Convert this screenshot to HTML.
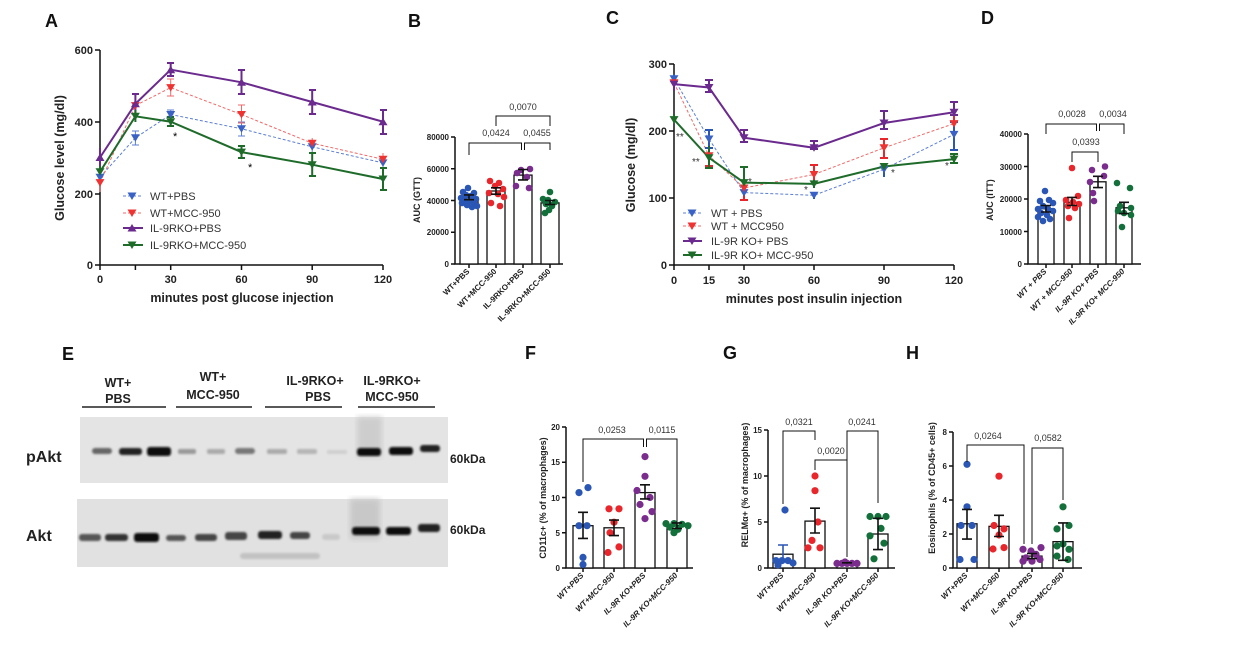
<!DOCTYPE html>
<html><head><meta charset="utf-8"><style>
html,body{margin:0;padding:0;background:#fff}
svg{display:block;font-family:"Liberation Sans",Arial,sans-serif}
.t{font-size:11px;font-weight:bold;fill:#222}
.s{font-size:8px;font-weight:bold;fill:#222}
.p{font-size:9px;fill:#333}
.L{font-size:18px;font-weight:bold;fill:#111}
.ax{stroke:#111;stroke-width:1.5;fill:none}
.bar{stroke:#111;stroke-width:1.3;fill:#fff}
.br{stroke:#111;stroke-width:1;fill:none}
.eb{stroke:#111;stroke-width:1.6;fill:none}
</style></head><body>
<svg width="1258" height="664" viewBox="0 0 1258 664" xmlns="http://www.w3.org/2000/svg">
<defs>
<symbol id="dn" overflow="visible"><path d="M-4.5,-3.5 L4.5,-3.5 L0,4Z"/></symbol>
<symbol id="up" overflow="visible"><path d="M-4.5,3.5 L4.5,3.5 L0,-4Z"/></symbol>
</defs>

<!-- ================= PANEL A ================= -->
<text class="L" x="45" y="27">A</text>
<g class="ax"><path d="M100,50 V265 H383"/>
<path d="M95,50H100M95,122H100M95,194H100M95,265H100"/>
<path d="M100,265v5M135.4,265v5M170.7,265v5M241.5,265v5M312.2,265v5M383,265v5"/></g>
<g class="t" text-anchor="end"><text x="93" y="54">600</text><text x="93" y="126">400</text><text x="93" y="198">200</text><text x="93" y="269">0</text></g>
<g class="t" text-anchor="middle"><text x="100" y="283">0</text><text x="170.7" y="283">30</text><text x="241.5" y="283">60</text><text x="312.2" y="283">90</text><text x="383" y="283">120</text></g>
<text class="t" x="242" y="302" text-anchor="middle" style="font-size:12.5px">minutes post glucose injection</text>
<text class="t" transform="translate(64,158) rotate(-90)" text-anchor="middle" style="font-size:12.5px">Glucose level (mg/dl)</text>
<!-- series -->
<g stroke="#5b7fd6" stroke-width="1" fill="none"><polyline stroke-dasharray="3,2" points="100,177.2 135.4,137.8 170.7,114.5 241.5,128.8 312.2,146.8 383,162.9"/>
<path d="M100,170v14M135.4,131v14M170.7,110v9M241.5,122v14M312.2,141v12M383,157v12M132,131h7M132,145h7M167,110h7M238,122h7M238,136h7"/></g>
<g stroke="#f06a6a" stroke-width="1" fill="none"><polyline stroke-dasharray="3,2" points="100,182.6 135.4,105.6 170.7,87.6 241.5,114.5 312.2,143.2 383,159.3"/>
<path d="M100,174v18M135.4,99v14M170.7,79v17M241.5,105v18M312.2,138v10M383,153v12M167,79h7M167,96h7M238,105h7M238,123h7"/></g>
<g stroke="#6b2a8e" stroke-width="2" fill="none"><polyline points="100,157.5 135.4,103.8 170.7,69.7 241.5,82.3 312.2,102 383,121.7"/>
<path d="M100,148v18M135.4,94v20M170.7,63v13M241.5,70v24M312.2,90v24M383,110v24M132,94h7M167,63h7M167,76h7M238,70h7M238,94h7M309,90h7M309,114h7M380,110h7M380,134h7"/></g>
<g stroke="#1e6b2a" stroke-width="2" fill="none"><polyline points="100,171.8 135.4,116.3 170.7,121.7 241.5,152.1 312.2,164.7 383,179"/>
<path d="M100,166v12M135.4,110v12M170.7,117v9M241.5,146v12M312.2,153v23M383,168v22M167,117h7M167,126h7M238,146h7M238,158h7M309,153h7M309,176h7M380,168h7M380,190h7"/></g>
<g fill="#3a62c4"><use href="#dn" x="100" y="177.2"/><use href="#dn" x="135.4" y="137.8"/><use href="#dn" x="170.7" y="114.5"/><use href="#dn" x="241.5" y="128.8"/><use href="#dn" x="312.2" y="146.8"/><use href="#dn" x="383" y="162.9"/></g>
<g fill="#ee3333"><use href="#dn" x="100" y="182.6"/><use href="#dn" x="135.4" y="105.6"/><use href="#dn" x="170.7" y="87.6"/><use href="#dn" x="241.5" y="114.5"/><use href="#dn" x="312.2" y="143.2"/><use href="#dn" x="383" y="159.3"/></g>
<g fill="#6b2a8e"><use href="#up" x="100" y="157.5"/><use href="#up" x="135.4" y="103.8"/><use href="#up" x="170.7" y="69.7"/><use href="#up" x="241.5" y="82.3"/><use href="#up" x="312.2" y="102"/><use href="#up" x="383" y="121.7"/></g>
<g fill="#1e6b2a"><use href="#dn" x="100" y="171.8"/><use href="#dn" x="135.4" y="116.3"/><use href="#dn" x="170.7" y="121.7"/><use href="#dn" x="241.5" y="152.1"/><use href="#dn" x="312.2" y="164.7"/><use href="#dn" x="383" y="179"/></g>
<text x="173" y="140" font-size="11">*</text><text x="248" y="171" font-size="11">*</text>
<!-- legend -->
<g font-size="11" fill="#333">
<line x1="123" y1="196" x2="143" y2="196" stroke="#5b7fd6" stroke-dasharray="3,2"/><use href="#dn" x="132" y="196" fill="#3a62c4"/><text x="150" y="200">WT+PBS</text>
<line x1="123" y1="213" x2="143" y2="213" stroke="#f06a6a" stroke-dasharray="3,2"/><use href="#dn" x="132" y="213" fill="#ee3333"/><text x="150" y="217">WT+MCC-950</text>
<line x1="123" y1="228" x2="143" y2="228" stroke="#6b2a8e" stroke-width="2"/><use href="#up" x="132" y="228" fill="#6b2a8e"/><text x="150" y="232">IL-9RKO+PBS</text>
<line x1="123" y1="245" x2="143" y2="245" stroke="#1e6b2a" stroke-width="2"/><use href="#dn" x="132" y="245" fill="#1e6b2a"/><text x="150" y="249">IL-9RKO+MCC-950</text>
</g>

<!-- ================= PANEL B ================= -->
<text class="L" x="408" y="27">B</text>
<g class="ax" stroke-width="1.2"><path d="M455,137 V264 H563"/><path d="M451,137h4M451,168.75h4M451,200.5h4M451,232.25h4M451,264h4M469,264v4M496,264v4M523,264v4M550,264v4"/></g>
<g class="s" text-anchor="end"><text x="449" y="140">80000</text><text x="449" y="172">60000</text><text x="449" y="204">40000</text><text x="449" y="235">20000</text><text x="449" y="267">0</text></g>
<text class="s" style="font-size:9px" transform="translate(420,200) rotate(-90)" text-anchor="middle">AUC (GTT)</text>
<rect class="bar" x="460" y="197.3" width="18" height="66.7"/><rect class="bar" x="487" y="191" width="18" height="73"/><rect class="bar" x="514" y="175.1" width="18" height="88.9"/><rect class="bar" x="541" y="202.9" width="18" height="61.1"/>
<g fill="#2a56b5"><circle cx="468" cy="188" r="3.3"/><circle cx="463" cy="192" r="3.3"/><circle cx="474" cy="193" r="3.3"/><circle cx="466" cy="195" r="3.3"/><circle cx="471" cy="196" r="3.3"/><circle cx="461" cy="198" r="3.3"/><circle cx="476" cy="199" r="3.3"/><circle cx="465" cy="200" r="3.3"/><circle cx="470" cy="201" r="3.3"/><circle cx="462" cy="203" r="3.3"/><circle cx="474" cy="203" r="3.3"/><circle cx="467" cy="205" r="3.3"/><circle cx="477" cy="206" r="3.3"/><circle cx="472" cy="207" r="3.3"/></g>
<g fill="#e8262b"><circle cx="490" cy="181" r="3.3"/><circle cx="499" cy="183" r="3.3"/><circle cx="495" cy="186" r="3.3"/><circle cx="503" cy="189" r="3.3"/><circle cx="489" cy="193" r="3.3"/><circle cx="498" cy="194" r="3.3"/><circle cx="504" cy="197" r="3.3"/><circle cx="491" cy="203" r="3.3"/><circle cx="500" cy="206" r="3.3"/></g>
<g fill="#7b2d8e"><circle cx="521" cy="170" r="3.3"/><circle cx="530" cy="169" r="3.3"/><circle cx="517" cy="173" r="3.3"/><circle cx="527" cy="177" r="3.3"/><circle cx="516" cy="186" r="3.3"/><circle cx="529" cy="188" r="3.3"/></g>
<g fill="#13703a"><circle cx="550" cy="192" r="3.3"/><circle cx="543" cy="199" r="3.3"/><circle cx="548" cy="200" r="3.3"/><circle cx="555" cy="202" r="3.3"/><circle cx="546" cy="204" r="3.3"/><circle cx="552" cy="206" r="3.3"/><circle cx="549" cy="210" r="3.3"/><circle cx="545" cy="213" r="3.3"/></g>
<g class="eb"><path d="M469,194.9v4.8M464,194.9h10M464,199.7h10M496,187.8v6.4M491,187.8h10M491,194.2h10M523,169.5v10.4M518,169.5h10M518,179.9h10M550,200.5v4M545,200.5h10M545,204.5h10"/></g>
<g class="br"><path d="M469,155V143H521.5V150M524.5,150V143H550V150M496,126V116H550V126"/></g>
<g class="p" text-anchor="middle"><text x="496" y="136">0,0424</text><text x="537" y="136">0,0455</text><text x="523" y="110">0,0070</text></g>
<g class="s" text-anchor="end"><text transform="translate(470,272) rotate(-45)">WT+PBS</text><text transform="translate(497,272) rotate(-45)">WT+MCC-950</text><text transform="translate(524,272) rotate(-45)">IL-9RKO+PBS</text><text transform="translate(551,272) rotate(-45)">IL-9RKO+MCC-950</text></g>

<!-- ================= PANEL C ================= -->
<text class="L" x="606" y="24">C</text>
<g class="ax"><path d="M674,64 V265 H954"/><path d="M669,64h5M669,131h5M669,198h5M669,265h5M674,265v5M709,265v5M744,265v5M814,265v5M884,265v5M954,265v5"/></g>
<g class="t" text-anchor="end"><text x="667" y="68">300</text><text x="667" y="135">200</text><text x="667" y="202">100</text><text x="667" y="269">0</text></g>
<g class="t" text-anchor="middle"><text x="674" y="284">0</text><text x="709" y="284">15</text><text x="744" y="284">30</text><text x="814" y="284">60</text><text x="884" y="284">90</text><text x="954" y="284">120</text></g>
<text class="t" x="814" y="303" text-anchor="middle" style="font-size:12.5px">minutes post insulin injection</text>
<text class="t" transform="translate(635,165) rotate(-90)" text-anchor="middle" style="font-size:12.5px">Glucose (mg/dl)</text>
<g stroke="#5b7fd6" stroke-width="1" fill="none"><polyline stroke-dasharray="3,2" points="674,78.7 709,139 744,192.6 814,195.3 884,169.2 954,134.4"/></g>
<g stroke="#f06a6a" stroke-width="1" fill="none"><polyline stroke-dasharray="3,2" points="674,82.8 709,155.8 744,188 814,174.5 884,147.8 954,123.6"/></g>
<g stroke="#6b2a8e" stroke-width="2" fill="none"><polyline points="674,84.1 709,87.5 744,137.7 814,147.8 884,123 954,112.2"/></g>
<g stroke="#1e6b2a" stroke-width="2" fill="none"><polyline points="674,119.6 709,157.8 744,182.6 814,183.9 884,166.5 954,159.1"/></g>
<g stroke-width="2" fill="none">
<path stroke="#2a56b5" d="M674,74v10M709,130v18M744,186v13M814,192v7M884,164v13M954,122v28M705,130h8M705,148h8M950,122h8M950,150h8"/>
<path stroke="#e8262b" d="M674,77v12M709,146v20M744,180v20M814,165v18M884,139v19M954,116v10M705,166h8M740,200h8M810,165h8M880,139h8M880,158h8"/>
<path stroke="#6b2a8e" d="M674,77v14M709,80v12M744,130v12M814,141v8M884,111v18M954,102v13M705,80h8M705,92h8M740,130h8M740,142h8M810,141h8M810,149h8M880,111h8M880,129h8M950,102h8M950,115h8"/>
<path stroke="#1e6b2a" d="M674,114v8M709,146v22M744,167v16M814,180v8M884,163v6M954,154v9M705,168h8M740,167h8M950,154h8M950,163h8"/></g>
<g fill="#3a62c4"><use href="#dn" x="674" y="78.7"/><use href="#dn" x="709" y="139"/><use href="#dn" x="744" y="192.6"/><use href="#dn" x="814" y="195.3"/><use href="#dn" x="884" y="169.2"/><use href="#dn" x="954" y="134.4"/></g>
<g fill="#ee3333"><use href="#dn" x="674" y="82.8"/><use href="#dn" x="709" y="155.8"/><use href="#dn" x="744" y="188"/><use href="#dn" x="814" y="174.5"/><use href="#dn" x="884" y="147.8"/><use href="#dn" x="954" y="123.6"/></g>
<g fill="#6b2a8e"><use href="#dn" x="674" y="84.1"/><use href="#dn" x="709" y="87.5"/><use href="#dn" x="744" y="137.7"/><use href="#dn" x="814" y="147.8"/><use href="#dn" x="884" y="123"/><use href="#dn" x="954" y="112.2"/></g>
<g fill="#1e6b2a"><use href="#dn" x="674" y="119.6"/><use href="#dn" x="709" y="157.8"/><use href="#dn" x="744" y="182.6"/><use href="#dn" x="814" y="183.9"/><use href="#dn" x="884" y="166.5"/><use href="#dn" x="954" y="159.1"/></g>
<g font-size="10" fill="#333"><text x="676" y="140">**</text><text x="692" y="165">**</text><text x="748" y="185">*</text><text x="804" y="193">*</text><text x="891" y="176">*</text><text x="945" y="169">*</text></g>
<g font-size="11" fill="#333">
<line x1="683" y1="213" x2="702" y2="213" stroke="#5b7fd6" stroke-dasharray="3,2"/><use href="#dn" x="692" y="213" fill="#3a62c4"/><text x="711" y="217">WT + PBS</text>
<line x1="683" y1="226" x2="702" y2="226" stroke="#f06a6a" stroke-dasharray="3,2"/><use href="#dn" x="692" y="226" fill="#ee3333"/><text x="711" y="230">WT + MCC950</text>
<line x1="683" y1="241" x2="702" y2="241" stroke="#6b2a8e" stroke-width="2"/><use href="#dn" x="692" y="241" fill="#6b2a8e"/><text x="711" y="245">IL-9R KO+ PBS</text>
<line x1="683" y1="255" x2="702" y2="255" stroke="#1e6b2a" stroke-width="2"/><use href="#dn" x="692" y="255" fill="#1e6b2a"/><text x="711" y="259">IL-9R KO+ MCC-950</text>
</g>

<!-- ================= PANEL D ================= -->
<text class="L" x="981" y="24">D</text>
<g class="ax" stroke-width="1.2"><path d="M1028,134 V264 H1141"/><path d="M1024,134h4M1024,166.5h4M1024,199h4M1024,231.5h4M1024,264h4M1046,264v4M1072,264v4M1098,264v4M1124,264v4"/></g>
<g class="s" text-anchor="end"><text x="1022" y="137">40000</text><text x="1022" y="170">30000</text><text x="1022" y="202">20000</text><text x="1022" y="235">10000</text><text x="1022" y="267">0</text></g>
<text class="s" style="font-size:9px" transform="translate(993,200) rotate(-90)" text-anchor="middle">AUC (ITT)</text>
<rect class="bar" x="1038" y="208.75" width="16" height="55.25"/><rect class="bar" x="1064" y="202.25" width="16" height="61.75"/><rect class="bar" x="1090" y="181.8" width="16" height="82.2"/><rect class="bar" x="1116" y="207.8" width="16" height="56.2"/>
<g fill="#2a56b5"><circle cx="1045" cy="191" r="3.3"/><circle cx="1040" cy="201" r="3.3"/><circle cx="1049" cy="200" r="3.3"/><circle cx="1053" cy="203" r="3.3"/><circle cx="1043" cy="206" r="3.3"/><circle cx="1038" cy="209" r="3.3"/><circle cx="1048" cy="209" r="3.3"/><circle cx="1053" cy="211" r="3.3"/><circle cx="1041" cy="213" r="3.3"/><circle cx="1047" cy="215" r="3.3"/><circle cx="1038" cy="217" r="3.3"/><circle cx="1050" cy="219" r="3.3"/><circle cx="1043" cy="221" r="3.3"/></g>
<g fill="#e8262b"><circle cx="1072" cy="168" r="3.3"/><circle cx="1078" cy="196" r="3.3"/><circle cx="1066" cy="200" r="3.3"/><circle cx="1073" cy="202" r="3.3"/><circle cx="1079" cy="204" r="3.3"/><circle cx="1068" cy="206" r="3.3"/><circle cx="1075" cy="208" r="3.3"/><circle cx="1069" cy="218" r="3.3"/></g>
<g fill="#7b2d8e"><circle cx="1105" cy="166.5" r="3.3"/><circle cx="1092" cy="170" r="3.3"/><circle cx="1104" cy="176" r="3.3"/><circle cx="1090" cy="182" r="3.3"/><circle cx="1093" cy="193" r="3.3"/><circle cx="1094" cy="201" r="3.3"/></g>
<g fill="#13703a"><circle cx="1117" cy="183" r="3.3"/><circle cx="1130" cy="188" r="3.3"/><circle cx="1120" cy="206" r="3.3"/><circle cx="1131" cy="208" r="3.3"/><circle cx="1118" cy="211" r="3.3"/><circle cx="1124" cy="213" r="3.3"/><circle cx="1131" cy="215" r="3.3"/><circle cx="1122" cy="227" r="3.3"/></g>
<g class="eb"><path d="M1046,205.5v6.5M1041,205.5h10M1041,212h10M1072,197.4v8.1M1067,197.4h10M1067,205.5h10M1098,176.3v11.3M1093,176.3h10M1093,187.6h10M1124,202.3v11.3M1119,202.3h10M1119,213.6h10"/></g>
<g class="br"><path d="M1046,134V124H1096.5V131M1099.5,131V124H1124V134M1072,162V152H1098V162"/></g>
<g class="p" text-anchor="middle"><text x="1072" y="117">0,0028</text><text x="1113" y="117">0,0034</text><text x="1086" y="145">0,0393</text></g>
<g class="s" text-anchor="end" font-style="italic"><text transform="translate(1047,272) rotate(-45)">WT + PBS</text><text transform="translate(1073,272) rotate(-45)">WT + MCC-950</text><text transform="translate(1099,272) rotate(-45)">IL-9R KO+ PBS</text><text transform="translate(1125,272) rotate(-45)">IL-9R KO+ MCC-950</text></g>

<!-- ================= PANEL E ================= -->
<text class="L" x="62" y="360">E</text>
<g font-size="12.5" font-weight="bold" fill="#222" text-anchor="middle">
<text x="118" y="387">WT+</text><text x="118" y="403">PBS</text>
<text x="213" y="381">WT+</text><text x="213" y="399">MCC-950</text>
<text x="315" y="385">IL-9RKO+</text><text x="318" y="401">PBS</text>
<text x="392" y="385">IL-9RKO+</text><text x="392" y="401">MCC-950</text></g>
<g stroke="#222" stroke-width="1.5"><path d="M82,407H166M176,407H252M265,407H342M358,407H435"/></g>
<defs><filter id="bl"><feGaussianBlur stdDeviation="1.1"/></filter><filter id="bl2"><feGaussianBlur stdDeviation="3"/></filter></defs>
<rect x="80" y="417" width="368" height="66" fill="#e4e4e4"/>
<rect x="357" y="417" width="25" height="40" fill="#cdcdcd" filter="url(#bl2)"/>
<g filter="url(#bl)">
<rect x="92" y="448" width="20" height="6" rx="3" fill="#666"/>
<rect x="119" y="448" width="23" height="7" rx="3" fill="#222"/>
<rect x="147" y="447" width="24" height="9" rx="3" fill="#111"/>
<rect x="178" y="449" width="18" height="5" rx="2" fill="#999"/>
<rect x="207" y="449" width="18" height="5" rx="2" fill="#aaa"/>
<rect x="235" y="448" width="20" height="6" rx="3" fill="#777"/>
<rect x="267" y="449" width="20" height="5" rx="2" fill="#aaa"/>
<rect x="297" y="449" width="20" height="5" rx="2" fill="#b5b5b5"/>
<rect x="327" y="450" width="20" height="4" rx="2" fill="#cfcfcf"/>
<rect x="357" y="448" width="24" height="8" rx="3" fill="#111"/>
<rect x="389" y="447" width="24" height="8" rx="3" fill="#111"/>
<rect x="420" y="445" width="20" height="7" rx="3" fill="#222"/>
</g>
<rect x="77" y="499" width="371" height="68" fill="#e1e1e1"/>
<rect x="350" y="499" width="30" height="40" fill="#c8c8c8" filter="url(#bl2)"/>
<g filter="url(#bl)">
<rect x="79" y="534" width="22" height="7" rx="3" fill="#555"/>
<rect x="105" y="534" width="23" height="7" rx="3" fill="#333"/>
<rect x="134" y="533" width="25" height="9" rx="3" fill="#111"/>
<rect x="166" y="535" width="20" height="6" rx="3" fill="#555"/>
<rect x="195" y="534" width="22" height="7" rx="3" fill="#444"/>
<rect x="225" y="532" width="22" height="8" rx="3" fill="#444"/>
<rect x="258" y="531" width="24" height="8" rx="3" fill="#222"/>
<rect x="290" y="532" width="20" height="7" rx="3" fill="#444"/>
<rect x="322" y="534" width="18" height="6" rx="3" fill="#c9c9c9"/>
<rect x="352" y="527" width="28" height="8" rx="3" fill="#111"/>
<rect x="386" y="527" width="25" height="8" rx="3" fill="#111"/>
<rect x="418" y="524" width="22" height="8" rx="3" fill="#222"/>
<rect x="240" y="553" width="80" height="6" rx="3" fill="#c2c2c2"/>
</g>
<g font-weight="bold" fill="#222"><text x="26" y="462" font-size="16">pAkt</text><text x="26" y="541" font-size="16">Akt</text>
<text x="450" y="463" font-size="12">60kDa</text><text x="450" y="534" font-size="12">60kDa</text></g>

<!-- ================= PANEL F ================= -->
<text class="L" x="525" y="359">F</text>
<g class="ax" stroke-width="1.2"><path d="M566,427 V568 H693"/><path d="M562,427h4M562,462.25h4M562,497.5h4M562,532.75h4M562,568h4M583,568v4M614,568v4M645,568v4M677,568v4"/></g>
<g class="s" text-anchor="end"><text x="560" y="430">20</text><text x="560" y="465">15</text><text x="560" y="501">10</text><text x="560" y="536">5</text><text x="560" y="571">0</text></g>
<text class="s" style="font-size:9px" transform="translate(546,498) rotate(-90)" text-anchor="middle">CD11c+ (% of macrophages)</text>
<rect class="bar" x="573" y="525.7" width="20" height="42.3"/><rect class="bar" x="604" y="527.8" width="20" height="40.2"/><rect class="bar" x="635" y="492.6" width="20" height="75.4"/><rect class="bar" x="667" y="525.7" width="20" height="42.3"/>
<g fill="#2a56b5"><circle cx="588" cy="487.6" r="3.6"/><circle cx="579" cy="492.6" r="3.6"/><circle cx="579" cy="525.7" r="3.6"/><circle cx="587" cy="525.7" r="3.6"/><circle cx="583" cy="557.4" r="3.6"/><circle cx="583" cy="564.5" r="3.6"/></g>
<g fill="#e8262b"><circle cx="609" cy="508.8" r="3.6"/><circle cx="619" cy="508.8" r="3.6"/><circle cx="614" cy="522.2" r="3.6"/><circle cx="610" cy="532.75" r="3.6"/><circle cx="619" cy="546.9" r="3.6"/><circle cx="608" cy="552.5" r="3.6"/></g>
<g fill="#7b2d8e"><circle cx="645" cy="456.6" r="3.6"/><circle cx="645" cy="476.3" r="3.6"/><circle cx="637" cy="490.5" r="3.6"/><circle cx="650" cy="497.5" r="3.6"/><circle cx="640" cy="504.5" r="3.6"/><circle cx="652" cy="511.6" r="3.6"/><circle cx="645" cy="518.6" r="3.6"/></g>
<g fill="#13703a"><circle cx="666" cy="523.6" r="3.6"/><circle cx="674" cy="523.6" r="3.6"/><circle cx="682" cy="524.3" r="3.6"/><circle cx="688" cy="525.7" r="3.6"/><circle cx="670" cy="527.2" r="3.6"/><circle cx="678" cy="529.3" r="3.6"/><circle cx="674" cy="532.7" r="3.6"/></g>
<g class="eb"><path d="M583,538.4v-26.1M578,538.4h10M578,512.3h10M614,535.6v-15.5M609,535.6h10M609,520.1h10M645,498.9v-14.1M640,498.9h10M640,484.8h10M677,528.5v-5.6M672,528.5h10M672,522.9h10"/></g>
<g class="br"><path d="M583,482V439H643.5V447M646.5,447V439H677V522"/></g>
<g class="p" text-anchor="middle"><text x="612" y="433">0,0253</text><text x="662" y="433">0,0115</text></g>
<g class="s" text-anchor="end" font-style="italic"><text transform="translate(584,576) rotate(-45)">WT+PBS</text><text transform="translate(615,576) rotate(-45)">WT+MCC-950</text><text transform="translate(646,576) rotate(-45)">IL-9R KO+PBS</text><text transform="translate(678,576) rotate(-45)">IL-9R KO+MCC-950</text></g>

<!-- ================= PANEL G ================= -->
<text class="L" x="723" y="359">G</text>
<g class="ax" stroke-width="1.2"><path d="M768,430 V568 H895"/><path d="M764,430h4M764,476h4M764,522h4M764,568h4M783,568v4M815,568v4M847,568v4M878,568v4"/></g>
<g class="s" text-anchor="end"><text x="762" y="433">15</text><text x="762" y="479">10</text><text x="762" y="525">5</text><text x="762" y="571">0</text></g>
<text class="s" style="font-size:9px" transform="translate(748,485) rotate(-90)" text-anchor="middle">RELMα+ (% of macrophages)</text>
<rect class="bar" x="773" y="554.2" width="20" height="13.8"/><rect class="bar" x="805" y="521.1" width="20" height="46.9"/><rect class="bar" x="837" y="563.4" width="20" height="4.6"/><rect class="bar" x="868" y="534" width="20" height="34"/>
<g fill="#2a56b5"><circle cx="785" cy="510" r="3.6"/><circle cx="776" cy="560.6" r="3.6"/><circle cx="782" cy="560.6" r="3.6"/><circle cx="788" cy="560.6" r="3.6"/><circle cx="793" cy="563" r="3.6"/><circle cx="778" cy="565" r="3.6"/></g>
<g fill="#e8262b"><circle cx="815" cy="476" r="3.6"/><circle cx="815" cy="490.7" r="3.6"/><circle cx="818" cy="522" r="3.6"/><circle cx="812" cy="540.4" r="3.6"/><circle cx="808" cy="547.8" r="3.6"/><circle cx="820" cy="547.8" r="3.6"/></g>
<g fill="#7b2d8e"><circle cx="837" cy="563.4" r="3.6"/><circle cx="842" cy="563.4" r="3.6"/><circle cx="847" cy="563.4" r="3.6"/><circle cx="852" cy="563.4" r="3.6"/><circle cx="857" cy="563.4" r="3.6"/><circle cx="845" cy="562" r="3.6"/></g>
<g fill="#13703a"><circle cx="870" cy="516.5" r="3.6"/><circle cx="878" cy="516.5" r="3.6"/><circle cx="886" cy="516.5" r="3.6"/><circle cx="881" cy="528.4" r="3.6"/><circle cx="870" cy="535.8" r="3.6"/><circle cx="884" cy="543.2" r="3.6"/><circle cx="874" cy="558.8" r="3.6"/></g>
<g class="eb" ><path stroke="#2a56b5" d="M783,563.4v-18.4M778,545h10"/><path d="M815,533v-24.8M810,533h10M810,508.2h10M847,563.7v-1.8M842,562.8h10M878,549.6v-31.3M873,549.6h10M873,518.3h10"/></g>
<g class="br"><path d="M783,504V431H815V440M847,508V431H878V503M815,470V460H847V557"/></g>
<g class="p" text-anchor="middle"><text x="799" y="425">0,0321</text><text x="862" y="425">0,0241</text><text x="831" y="454">0,0020</text></g>
<g class="s" text-anchor="end" font-style="italic"><text transform="translate(784,576) rotate(-45)">WT+PBS</text><text transform="translate(816,576) rotate(-45)">WT+MCC-950</text><text transform="translate(848,576) rotate(-45)">IL-9R KO+PBS</text><text transform="translate(879,576) rotate(-45)">IL-9R KO+MCC-950</text></g>

<!-- ================= PANEL H ================= -->
<text class="L" x="906" y="359">H</text>
<g class="ax" stroke-width="1.2"><path d="M953,432 V568 H1082"/><path d="M949,432h4M949,466h4M949,500h4M949,534h4M949,568h4M967,568v4M999,568v4M1032,568v4M1063,568v4"/></g>
<g class="s" text-anchor="end"><text x="947" y="435">8</text><text x="947" y="469">6</text><text x="947" y="503">4</text><text x="947" y="537">2</text><text x="947" y="571">0</text></g>
<text class="s" style="font-size:9px" transform="translate(935,488) rotate(-90)" text-anchor="middle">Eosinophils (% of CD45+ cells)</text>
<rect class="bar" x="957" y="523.8" width="20" height="44.2"/><rect class="bar" x="989" y="526.35" width="20" height="41.65"/><rect class="bar" x="1022" y="556.1" width="20" height="11.9"/><rect class="bar" x="1053" y="541.65" width="20" height="26.35"/>
<g fill="#2a56b5"><circle cx="967" cy="464.3" r="3.6"/><circle cx="967" cy="506.8" r="3.6"/><circle cx="961" cy="525.5" r="3.6"/><circle cx="972" cy="525.5" r="3.6"/><circle cx="960" cy="559.5" r="3.6"/><circle cx="974" cy="559.5" r="3.6"/></g>
<g fill="#e8262b"><circle cx="999" cy="476.2" r="3.6"/><circle cx="994" cy="525.5" r="3.6"/><circle cx="1004" cy="528.9" r="3.6"/><circle cx="999" cy="535" r="3.6"/><circle cx="993" cy="549" r="3.6"/><circle cx="1004" cy="547.6" r="3.6"/></g>
<g fill="#7b2d8e"><circle cx="1023" cy="549.3" r="3.6"/><circle cx="1041" cy="547.6" r="3.6"/><circle cx="1031" cy="551" r="3.6"/><circle cx="1036" cy="554.4" r="3.6"/><circle cx="1026" cy="557.8" r="3.6"/><circle cx="1040" cy="559.5" r="3.6"/><circle cx="1023" cy="561.2" r="3.6"/><circle cx="1032" cy="561.2" r="3.6"/></g>
<g fill="#13703a"><circle cx="1063" cy="506.8" r="3.6"/><circle cx="1069" cy="525.5" r="3.6"/><circle cx="1057" cy="528.9" r="3.6"/><circle cx="1057" cy="546" r="3.6"/><circle cx="1069" cy="549.3" r="3.6"/><circle cx="1063" cy="544" r="3.6"/><circle cx="1057" cy="556.1" r="3.6"/><circle cx="1068" cy="559.5" r="3.6"/></g>
<g class="eb"><path d="M967,539.1v-29.7M962,539.1h10M962,509.4h10M999,536.5v-21.2M994,536.5h10M994,515.3h10M1032,558.6v-5.1M1027,558.6h10M1027,553.5h10M1063,560.3v-37.4M1058,560.3h10M1058,522.9h10"/></g>
<g class="br"><path d="M967,462V445H1024V544M1032,544V448H1063V500"/></g>
<g class="p" text-anchor="middle"><text x="988" y="439">0,0264</text><text x="1048" y="441">0,0582</text></g>
<g class="s" text-anchor="end" font-style="italic"><text transform="translate(968,576) rotate(-45)">WT+PBS</text><text transform="translate(1000,576) rotate(-45)">WT+MCC-950</text><text transform="translate(1033,576) rotate(-45)">IL-9R KO+PBS</text><text transform="translate(1064,576) rotate(-45)">IL-9R KO+MCC-950</text></g>
</svg>
</body></html>
